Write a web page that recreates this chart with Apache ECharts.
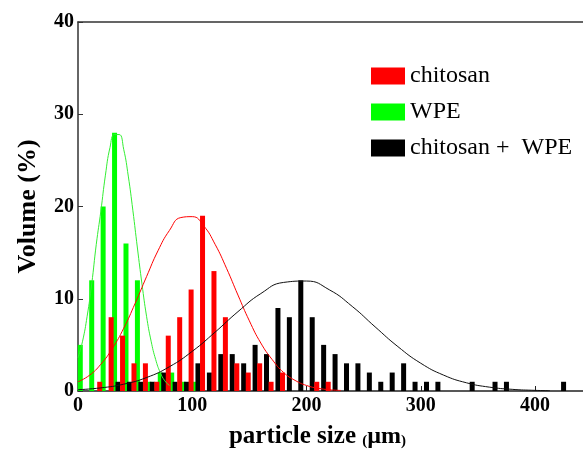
<!DOCTYPE html>
<html>
<head>
<meta charset="utf-8">
<script src="https://cdn.jsdelivr.net/npm/echarts@6/dist/echarts.min.js"></script>
<style>
  html, body { margin: 0; padding: 0; background: #fff; }
  #chart { width: 583px; height: 450px; }
</style>
</head>
<body>
<div id="chart"></div>
<script>
// bar positions (µm) and volume (%)
const chitosanX = [19, 29, 39, 49, 59, 69, 79, 89, 99, 109, 119, 129, 139, 149, 159, 169, 179, 189, 199, 209, 219];
const chitosanY = [1, 8, 6, 3, 3, 1, 6, 8, 11, 19, 13, 8, 3, 2, 3, 1, 2, 0, 0, 1, 1];

const wpeX = [2, 12, 22, 32, 42, 52, 62, 72, 82, 92, 102];
const wpeY = [5, 12, 20, 28, 16, 12, 1, 2, 2, 1, 1];

const mixX = [35, 45, 55, 65, 75, 85, 95, 105, 115, 125, 135, 145, 155, 165, 175, 185, 195, 205, 215, 225,
  235, 245, 255, 265, 275, 285, 295, 305, 315, 345, 365, 375, 425];
const mixY = [1, 1, 1, 1, 2, 1, 1, 3, 2, 4, 4, 3, 5, 4, 9, 8, 12, 8, 5, 4,
  3, 3, 2, 1, 2, 3, 1, 1, 1, 1, 1, 1, 1];

// fitted curves, points
const wpeFitX = [0, 4, 8, 12, 16, 20, 24, 28, 32, 36, 40, 44, 48, 52, 56, 60, 64, 68, 72, 76, 80];
const wpeFitY = [3.6, 5.4, 8.1, 11.6, 15.9, 19.5, 23.4, 26.4, 27.8, 27.8, 26.2, 23.3, 19.6, 15.5, 11.6, 8.1, 5.4, 3.4, 2.0, 1.1, 0.6];

const chitosanFitX = [0, 10, 20, 30, 40, 50, 60, 70, 80, 90, 100, 110, 120, 130, 140, 150, 160, 170, 180, 190, 200, 210, 220, 230];
const chitosanFitY = [1.0, 1.7, 2.9, 4.6, 6.8, 9.5, 12.4, 15.2, 17.4, 18.8, 18.9, 17.9, 15.9, 13.3, 10.4, 7.6, 5.2, 3.4, 2.0, 1.15, 0.6, 0.3, 0.14, 0.06];

const mixFitX = [0, 20, 40, 60, 80, 100, 120, 140, 160, 180, 200, 220, 240, 260, 280, 300, 320, 340, 360, 380, 400, 413];
const mixFitY = [0.14, 0.34, 0.74, 1.46, 2.63, 4.3, 6.38, 8.6, 10.56, 11.77, 11.92, 10.97, 9.17, 6.96, 4.81, 3.01, 1.72, 0.89, 0.42, 0.18, 0.07, 0.03];

const yTicks = [0, 10, 20, 30, 40];

const pairs = (xs, ys) => xs.map((x, i) => [x, ys[i]]);
const serif = "'Liberation Serif', 'DejaVu Serif', serif";

const chart = echarts.init(document.getElementById("chart"));

function barSeries(name, color, xs, ys) {
  return {
    name: name,
    type: "bar",
    data: pairs(xs, ys),
    barWidth: 5,
    barGap: "-100%",
    itemStyle: { color: color },
    z: 2
  };
}

function fitSeries(name, color, xs, ys) {
  return {
    name: name,
    type: "line",
    data: pairs(xs, ys),
    smooth: 0.5,
    showSymbol: false,
    lineStyle: { color: color, width: 1 },
    z: 4
  };
}

chart.setOption({
  animation: false,
  grid: { left: 78, right: 0, top: 22, bottom: 59, outerBoundsMode: "none", containLabel: false },
  legend: {
    data: ["chitosan", "WPE", "chitosan +  WPE"],
    orient: "vertical",
    left: 366,
    top: 59,
    itemWidth: 34,
    itemHeight: 17,
    itemGap: 12,
    icon: "rect",
    textStyle: { fontFamily: serif, fontSize: 24, color: "#000" }
  },
  xAxis: [
    {
      type: "value",
      min: 0,
      max: 442,
      interval: 100,
      name: "{a|particle size }{b|(}{c|µm}{b|)}",
      nameLocation: "middle",
      nameGap: 33,
      nameTextStyle: {
        padding: [0, 26, 0, 0],
        rich: {
          a: { fontFamily: serif, fontSize: 25, fontWeight: "bold", color: "#000" },
          b: { fontFamily: serif, fontSize: 15, fontWeight: "bold", color: "#000", verticalAlign: "bottom" },
          c: { fontFamily: serif, fontSize: 24, fontWeight: "bold", color: "#000" }
        }
      },
      splitLine: { show: false },
      axisLine: { lineStyle: { color: "#222", width: 1.5 } },
      axisTick: { inside: true, length: 5, lineStyle: { color: "#222" } },
      axisLabel: {
        showMaxLabel: false,
        margin: 5,
        fontFamily: serif,
        fontSize: 20,
        fontWeight: "bold",
        color: "#000"
      }
    },
    {
      type: "value",
      position: "top",
      min: 0,
      max: 442,
      axisLine: { show: true, lineStyle: { color: "#333", width: 1.5 } },
      axisTick: { show: false },
      axisLabel: { show: false },
      splitLine: { show: false }
    }
  ],
  yAxis: {
    type: "value",
    min: yTicks[0],
    max: yTicks[yTicks.length - 1],
    interval: 10,
    name: "Volume (%)",
    nameLocation: "middle",
    nameGap: 37,
    nameTextStyle: { fontFamily: serif, fontSize: 26, fontWeight: "bold", color: "#000" },
    splitLine: { show: false },
    axisLine: { show: true, lineStyle: { color: "#333", width: 1.5 } },
    axisTick: { show: true, inside: true, length: 5, lineStyle: { color: "#333" } },
    axisLabel: {
      margin: 4,
      fontFamily: serif,
      fontSize: 20,
      fontWeight: "bold",
      color: "#000"
    }
  },
  series: [
    barSeries("WPE", "#00ff00", wpeX, wpeY),
    barSeries("chitosan +  WPE", "#000000", mixX, mixY),
    barSeries("chitosan", "#ff0000", chitosanX, chitosanY),
    fitSeries("WPE fit", "#33ee33", wpeFitX, wpeFitY),
    fitSeries("chitosan fit", "#ff0000", chitosanFitX, chitosanFitY),
    fitSeries("chitosan +  WPE fit", "#111111", mixFitX, mixFitY)
  ]
});
</script>
</body>
</html>
